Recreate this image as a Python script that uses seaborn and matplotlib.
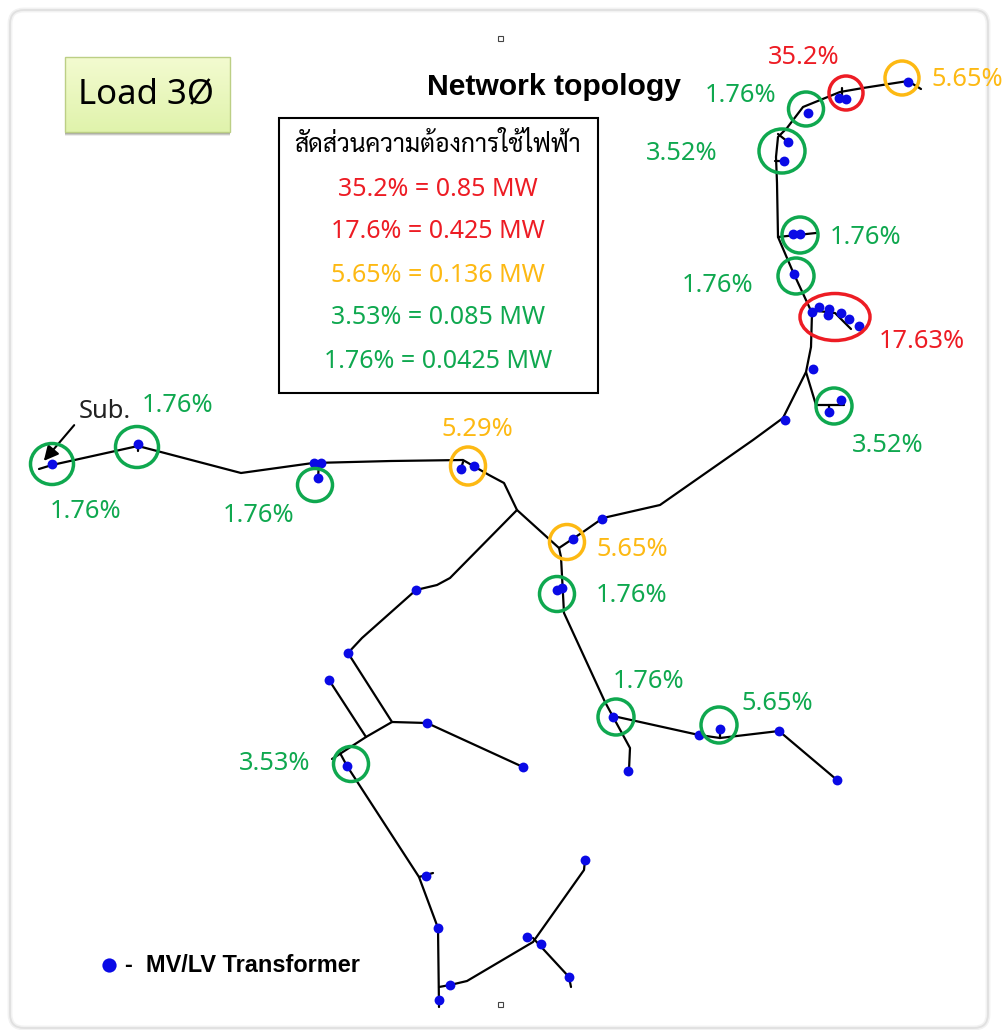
import numpy as np
import pandas as pd
import matplotlib
matplotlib.use("Agg")
import matplotlib.pyplot as plt
from matplotlib.patches import Ellipse, Rectangle, FancyBboxPatch
import seaborn as sns

# everything in image pixels
spine = [(921, 89), (908, 81), (863, 88), (840, 92), (803, 107), (787, 128), (778, 137), (776, 157),
         (777, 183), (778, 237), (793, 272), (812, 313), (811, 347), (806, 372), (783, 418), (753, 440),
         (660, 505), (603, 518), (583, 532), (559, 548)]
feeder_west = [(39, 469), (52, 465), (138, 446), (241, 473), (313, 463), (391, 461), (463, 460),
               (489, 475), (504, 483), (517, 510), (559, 548)]
feeder_south = [(559, 548), (561, 557), (564, 613), (605, 702), (630, 748), (629, 770)]
feeder_east = [(613, 716), (699, 735), (720, 738), (779, 731), (837, 780)]
feeder_mid = [(517, 510), (450, 578), (437, 585), (416, 590), (362, 638), (348, 653), (392, 722),
              (427, 723), (523, 767)]
feeder_tail = [(392, 722), (366, 737), (332, 759)]
feeder_spur = [(329, 680), (366, 737)]
feeder_low = [(340, 753), (347, 766), (419, 877), (438, 928), (439, 1007)]
feeder_low2 = [(439, 987), (450, 985), (467, 981), (533, 942), (584, 870), (585, 860)]
feeder_low3 = [(533, 938), (569, 977), (571, 987)]
stubs = [[(816, 233), (778, 237)], [(806, 372), (816, 405), (844, 405)],
         [(812, 313), (818, 311), (835, 313), (851, 329)], [(778, 134), (788, 142)],
         [(775, 161), (784, 161)], [(842, 88), (842, 98)], [(319, 463), (318, 478)],
         [(463, 462), (461, 469)], [(138, 444), (138, 451)], [(720, 729), (720, 738)],
         [(419, 877), (433, 873)], [(829, 405), (829, 412)]]

trans_x = [52, 138, 314, 321, 318, 461, 474, 416, 348, 329, 427, 523, 347, 426, 438, 585, 527, 541, 569, 450, 439,
           573, 602, 557, 562, 613, 699, 720, 779, 837, 628, 908, 839, 846, 808, 788, 784, 793, 800, 794, 812,
           819, 829, 828, 841, 849, 859, 813, 841, 829, 785]
trans_y = [464, 444, 463, 463, 478, 469, 466, 590, 653, 680, 723, 767, 766, 876, 928, 860, 937, 944, 977, 985, 1000,
           539, 519, 590, 588, 717, 735, 729, 731, 780, 771, 82, 98, 99, 113, 142, 161, 234, 234, 274, 312,
           307, 309, 315, 313, 319, 326, 369, 400, 412, 420]

RED = "#ed1c24"
GOLD = "#fdb913"
GREEN = "#0fa84f"

ring_x = [902, 846, 806, 782, 800, 796, 835, 834, 52, 137, 315, 468, 567, 557, 616, 719, 351]
ring_y = [78, 93, 109, 151, 235, 276, 317, 406, 464, 447, 485, 466, 542, 594, 717, 725, 764]
ring_w = [34, 34, 35, 46, 36, 36, 70, 36, 43, 43, 35, 35, 35, 35, 36, 36, 35]
ring_h = [34, 34, 34, 44, 36, 36, 47, 36, 41, 41, 33, 38, 35, 35, 36, 36, 35]
ring_c = [GOLD, RED, GREEN, GREEN, GREEN, GREEN, RED, GREEN, GREEN, GREEN, GREEN, GOLD, GOLD, GREEN, GREEN, GREEN, GREEN]

label_text = ["35.2%", "5.65%", "1.76%", "3.52%", "1.76%", "1.76%", "17.63%", "3.52%", "1.76%", "1.76%", "1.76%",
              "5.29%", "5.65%", "1.76%", "1.76%", "5.65%", "3.53%"]
label_x = [804, 967, 741, 682, 866, 718, 922, 888, 178, 86, 259, 477, 632, 632, 649, 777, 275]
label_y = [55, 78, 94, 151, 236, 283, 340, 444, 404, 509, 513, 428, 548, 594, 679, 701, 762]
label_c = [RED, GOLD, GREEN, GREEN, GREEN, GREEN, RED, GREEN, GREEN, GREEN, GREEN, GOLD, GOLD, GREEN, GREEN, GREEN, GREEN]

box_head = "สัดส่วนความต้องการใช้ไฟฟ้า"
box_lines = ["35.2% = 0.85 MW", "17.6% = 0.425 MW", "5.65% = 0.136 MW", "3.53% = 0.085 MW", "1.76% = 0.0425 MW"]
box_y = [188, 230, 273, 316, 360]
box_c = [RED, RED, GOLD, GREEN, GREEN]

sns.set_theme(style="white")
plt.rcParams["font.family"] = ["Noto Sans", "DejaVu Sans"]

fig = plt.figure(figsize=(10.08, 10.30), dpi=100)
ax = fig.add_axes([0, 0, 1, 1])
fig.patch.set_facecolor("white")

# card outline, soft edge
card = dict(boxstyle="round,pad=14,rounding_size=14")
ax.add_patch(FancyBboxPatch((24, 24), 950, 990, fc="white", ec="#f2f2f2", lw=3.5, **card))
ax.add_patch(FancyBboxPatch((24, 24), 950, 990, fill=False, ec="#e0e0e0", lw=1.3, **card))

branches = [spine, feeder_west, feeder_south, feeder_east, feeder_mid, feeder_tail, feeder_spur,
            feeder_low, feeder_low2, feeder_low3] + stubs
rows = []
for i, b in enumerate(branches):
    for x, y in b:
        rows.append((i, x, y))
lines = pd.DataFrame(rows, columns=["branch", "x", "y"])
sns.lineplot(data=lines, x="x", y="y", units="branch", estimator=None, sort=False, color="black", lw=1.6, ax=ax)
sns.scatterplot(x=trans_x, y=trans_y, color="#0a0ae6", s=50, linewidth=0, zorder=4, ax=ax)

for x, y, w, h, c in zip(ring_x, ring_y, ring_w, ring_h, ring_c):
    ax.add_patch(Ellipse((x, y), w, h, fill=False, ec=c, lw=2.5, zorder=5))
for t, x, y, c in zip(label_text, label_x, label_y, label_c):
    ax.text(x, y + 2, t, color=c, fontsize=18.3, ha="center", va="center")

ax.add_patch(Rectangle((279, 118), 319, 275, fc="white", ec="black", lw=1.5, zorder=3))
ax.text(438, 146, box_head, color="black", fontsize=17.8, ha="center", va="center", zorder=6,
        family=["Sarabun", "IBM Plex Sans Thai Looped", "DejaVu Sans"])
for t, y, c in zip(box_lines, box_y, box_c):
    ax.text(438, y + 2, t, color=c, fontsize=18, ha="center", va="center", zorder=6)

# Load box with a soft gradient and shadow
for off, a in [(1, 0.5), (2, 0.4), (3, 0.3), (4, 0.15)]:
    ax.add_patch(Rectangle((65, 57 + off), 165, 75, fc="#808078", ec="none", alpha=a, zorder=2))
grad = np.linspace(0, 1, 64).reshape(-1, 1)
cmap = matplotlib.colors.LinearSegmentedColormap.from_list("g", ["#f3fbd0", "#e0f3ac"])
ax.imshow(grad, extent=(65, 230, 132, 57), cmap=cmap, aspect="auto", zorder=3)
ax.add_patch(Rectangle((65, 57), 165, 75, fill=False, ec="#bccf85", lw=1, zorder=3))
ax.text(146, 94, "Load 3Ø", fontsize=25, ha="center", va="center", color="black", zorder=4)

ax.text(554, 87, "Network topology", family="Liberation Sans", weight="bold", fontsize=21.7, ha="center", va="center", color="black")
ax.text(125, 966, "-  MV/LV Transformer", family="Liberation Sans", weight="bold", fontsize=16.9, ha="left", va="center", color="black")
sns.scatterplot(x=[109], y=[965], color="#0a0ae6", s=105, linewidth=0, ax=ax)
ax.text(105, 411, "Sub.", fontsize=18.4, ha="center", va="center", color="#222222")
ax.annotate("", xy=(42, 463), xytext=(76, 423), arrowprops=dict(arrowstyle="-|>", color="black", lw=1.5, mutation_scale=22))

for x, y in [(500, 38), (500, 1004)]:
    ax.add_patch(Rectangle((x - 2.5, y - 2.5), 5, 5, fill=False, ec="#444444", lw=0.8))

ax.set_xlim(0, 1008)
ax.set_ylim(1030, 0)
ax.axis("off")
fig.savefig("out.png", dpi=100, facecolor=fig.get_facecolor())
